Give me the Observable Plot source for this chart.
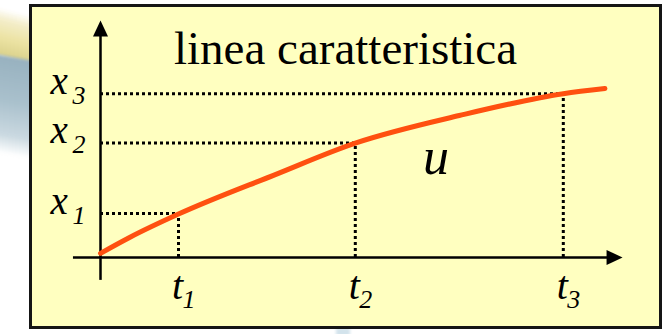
<!DOCTYPE html>
<html>
<head>
<meta charset="utf-8">
<script src="https://cdn.jsdelivr.net/npm/d3@7"></script>
<script src="https://cdn.jsdelivr.net/npm/@observablehq/plot@0.6"></script>
<style>
  html, body { margin: 0; padding: 0; background: #fff; }
  #wrap { position: relative; width: 663px; height: 334px; overflow: hidden; }
  .deco { position: absolute; filter: blur(1.5px); }
  #chart { position: absolute; left: 0; top: 0; }
</style>
</head>
<body>
<div id="wrap">
  <div class="deco" style="left:-6px; top:12px; width:46px; height:48px; background: linear-gradient(to bottom, rgba(255,255,255,0) 0%, #f3edc8 25%, #ece3a4 60%, #d9d08a 100%); transform: skewY(14deg);"></div>
  <div class="deco" style="left:-6px; top:58px; width:46px; height:98px; background: linear-gradient(to bottom, #97b1bf 0%, #a9c0cc 45%, #c9d8e0 80%, rgba(255,255,255,0) 100%); transform: skewY(10deg);"></div>
  <div class="deco" style="left:336px; top:328px; width:14px; height:8px; background:#d3e3ec;"></div>
  <div id="chart"></div>
</div>
<script>
// curve u(t): samples (t in units, x in units)
const curveT = [0, 0.55, 1.5, 3.35, 4.9, 6.9, 8.9, 9.7];
const curveX = [0.08, 0.38, 0.835, 1.59, 2.2, 2.73, 3.15, 3.25];

// marked instants and positions
const markT = [1.5, 4.9, 8.9];
const markX = [0.845, 2.2, 3.15];
const markIdx = ["1", "2", "3"];

// axis extents
const axisT = [-0.52, 10.04];
const axisX = [-0.44, 4.56];

const titleText = "linea caratteristica";
const curveLabel = {t: 6.2, x: 1.615, text: "u"};

const curve = curveT.map((t, i) => ({t, x: curveX[i]}));
const marks = markT.map((t, i) => ({t, x: markX[i], k: markIdx[i]}));

const serif = "Liberation Serif";
const arrowHead = {
  draw(ctx) {
    ctx.moveTo(0, 0);
    ctx.lineTo(7.5, 16);
    ctx.lineTo(-7.5, 16);
    ctx.closePath();
  }
};

const chart = Plot.plot({
  width: 663,
  height: 334,
  marginLeft: 30,
  marginTop: 5,
  marginRight: 3,
  marginBottom: 7,
  x: {domain: [0, 10], range: [100, 620], axis: null},
  y: {domain: [0, 4.5], range: [257, 23], axis: null},
  style: {background: "transparent", overflow: "visible"},
  marks: [
    Plot.frame({fill: "#FFFFC0", stroke: "#151515", strokeWidth: 3}),
    // dotted guides
    Plot.ruleY(marks, {y: "x", x1: 0, x2: "t", stroke: "#000", strokeWidth: 3, strokeDasharray: "3,3"}),
    Plot.ruleX(marks, {x: "t", y1: 0, y2: "x", stroke: "#000", strokeWidth: 3, strokeDasharray: "3,3"}),
    // axes
    Plot.ruleY([0], {x1: axisT[0], x2: axisT[1] - 0.1, stroke: "#000", strokeWidth: 2.5}),
    Plot.ruleX([0], {y1: axisX[0], y2: axisX[1] - 0.1, stroke: "#000", strokeWidth: 2.5}),
    Plot.dot([{t: axisT[1], x: 0}], {x: "t", y: "x", symbol: arrowHead, rotate: 90, fill: "#000", stroke: "none", r: 5}),
    Plot.dot([{t: 0, x: axisX[1]}], {x: "t", y: "x", symbol: arrowHead, rotate: 0, fill: "#000", stroke: "none", r: 5}),
    // curve
    Plot.line(curve, {x: "t", y: "x", curve: "monotone-x", stroke: "#FF5010", strokeWidth: 5}),
    // y labels x_i
    Plot.text(marks, {x: 0, y: "x", text: () => "x", fontFamily: serif, fontStyle: "italic", fontSize: 39, textAnchor: "start", lineAnchor: "bottom", dx: -50, fill: "#000"}),
    Plot.text(marks, {x: 0, y: "x", text: "k", fontFamily: serif, fontStyle: "italic", fontSize: 26, textAnchor: "start", lineAnchor: "bottom", dx: -28, dy: 10, fill: "#000"}),
    // x labels t_i
    Plot.text(marks, {x: "t", y: 0, text: () => "t", fontFamily: serif, fontStyle: "italic", fontSize: 40, textAnchor: "middle", lineAnchor: "bottom", dx: -1, dy: 41, fill: "#000"}),
    Plot.text(marks, {x: "t", y: 0, text: "k", fontFamily: serif, fontStyle: "italic", fontSize: 26, textAnchor: "start", lineAnchor: "bottom", dx: 4, dy: 50, fill: "#000"}),
    // curve label
    Plot.text([curveLabel], {x: "t", y: "x", text: "text", fontFamily: serif, fontStyle: "italic", fontSize: 52, textAnchor: "start", lineAnchor: "bottom", fill: "#000"}),
    // title
    Plot.text([titleText], {frameAnchor: "top", text: d => d, fontFamily: serif, fontSize: 47, textAnchor: "middle", lineAnchor: "bottom", dy: 58, fill: "#000"})
  ]
});
document.getElementById("chart").appendChild(chart);
</script>
</body>
</html>
